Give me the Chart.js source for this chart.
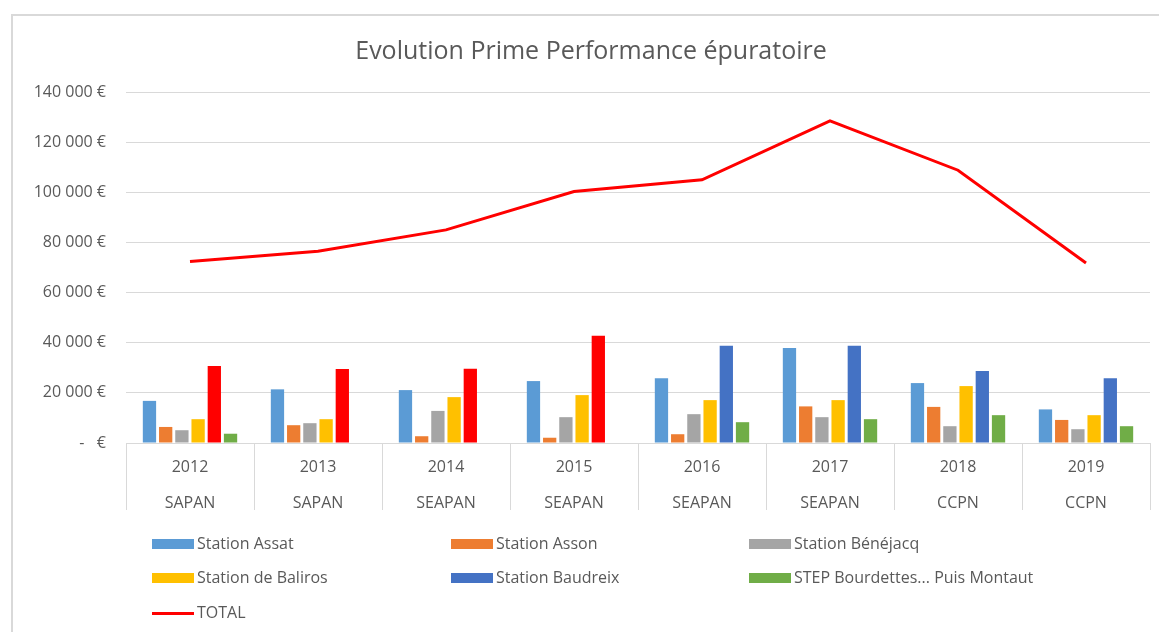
<!DOCTYPE html>
<html>
<head>
<meta charset="utf-8">
<script src="https://cdn.jsdelivr.net/npm/chart.js@4/dist/chart.umd.min.js"></script>
<style>
  html, body { margin:0; padding:0; background:#fff; }
  #wrap { position:relative; width:1159px; height:632px; overflow:hidden; font-family:"Open Sans", "Noto Sans", sans-serif; color:#595959; }
  #frame { position:absolute; left:11px; top:14px; width:1200px; height:700px; border-left:2px solid #d9d9d9; border-top:2px solid #d9d9d9; box-sizing:border-box; }
  #title { position:absolute; left:0; width:1182px; top:32px; text-align:center; font-size:25px; line-height:34px; color:#595959; }
  #cv { position:absolute; left:0; top:0; }
  .lg { position:absolute; font-size:16px; line-height:20px; color:#595959; white-space:nowrap; }
  .sw { position:absolute; top:5px; width:42px; height:10px; }
  .ln { position:absolute; top:9px; width:42px; height:3px; }
  .lt { position:absolute; left:45px; top:-1px; }
</style>
</head>
<body>
<div id="wrap">
  <div id="frame"></div>
  <canvas id="cv" width="1159" height="632"></canvas>
  <div id="title">Evolution Prime Performance épuratoire</div>
  <div id="legend"></div>
</div>
<script>
// ---- data ----
const years = ['2012','2013','2014','2015','2016','2017','2018','2019'];
const owners = ['SAPAN','SAPAN','SEAPAN','SEAPAN','SEAPAN','SEAPAN','CCPN','CCPN'];
const yTicks = [0, 20000, 40000, 60000, 80000, 100000, 120000, 140000];

const assat      = [16800, 21400, 21100, 24700, 25800, 37900, 23900, 13400];
const asson      = [6400, 7100, 2700, 2100, 3500, 14600, 14400, 9200];
const benejacq   = [5100, 7900, 12800, 10300, 11500, 10300, 6700, 5500];
const baliros    = [9500, 9500, 18300, 19100, 17100, 17100, 22700, 11100];
const baudreix   = [30700, 29500, 29600, 42800, 38800, 38800, 28700, 25800];
const bourdettes = [3700, null, null, null, 8300, 9500, 11100, 6700];
const total      = [72400, 76500, 85000, 100300, 105000, 128500, 108800, 71800];

const seriesNames = ['Station Assat','Station Asson','Station Bénéjacq','Station de Baliros','Station Baudreix','STEP Bourdettes... Puis Montaut','TOTAL'];

// ---- styles ----
const colors = ['#5B9BD5','#ED7D31','#A5A5A5','#FFC000','#4472C4','#70AD47','#FF0000'];
const baudreixColors = years.map((y, i) => i < 4 ? '#FF0000' : '#4472C4');
const txt = '#595959';
const grid = '#d9d9d9';
const fontFam = '"Open Sans", "Noto Sans", sans-serif';

const barData = [assat, asson, benejacq, baliros, baudreix, bourdettes];
const datasets = barData.map((d, i) => ({
  type: 'bar',
  label: seriesNames[i],
  data: d,
  backgroundColor: i === 4 ? baudreixColors : colors[i],
  borderWidth: 0,
  categoryPercentage: 0.76,
  barPercentage: 0.82,
  order: 1
}));
datasets.push({
  type: 'line',
  label: seriesNames[6],
  data: total,
  borderColor: colors[6],
  backgroundColor: colors[6],
  borderWidth: 3,
  pointRadius: 0,
  tension: 0,
  order: 0
});

function fmt(v) {
  if (v === 0) return '-   €';
  return String(v).replace(/\B(?=(\d{3})+(?!\d))/g, ' ') + ' €';
}

new Chart(document.getElementById('cv'), {
  type: 'bar',
  data: { labels: years.map((y, i) => [y, owners[i]]), datasets },
  options: {
    responsive: false,
    animation: false,
    layout: { padding: { left: 0, right: 9, top: 92, bottom: 0 } },
    plugins: { legend: { display: false }, title: { display: false }, tooltip: { enabled: false } },
    scales: {
      x: {
        offset: true,
        grid: { offset: true, drawOnChartArea: false, drawTicks: true, tickLength: 67, color: grid, lineWidth: 1 },
        border: { color: grid, width: 1 },
        ticks: { padding: -61, color: txt, font: { family: fontFam, size: 16, lineHeight: '36px' }, maxRotation: 0, autoSkip: false },
        afterFit: s => { s.height = 632 - 443; }
      },
      y: {
        min: 0, max: 140000,
        afterBuildTicks: s => { s.ticks = yTicks.map(v => ({ value: v })); },
        grid: { drawTicks: false, color: grid, lineWidth: 1 },
        border: { display: false },
        ticks: { padding: 20, color: txt, font: { family: fontFam, size: 16 }, callback: v => fmt(v) },
        afterFit: s => { s.width = 126; }
      }
    }
  }
});

// ---- HTML legend ----
const legendPos = [[152,534],[451,534],[749,534],[152,568],[451,568],[749,568],[152,603]];
const lg = document.getElementById('legend');
datasets.forEach((ds, i) => {
  const d = document.createElement('div');
  d.className = 'lg';
  d.style.left = legendPos[i][0] + 'px';
  d.style.top = legendPos[i][1] + 'px';
  const s = document.createElement('div');
  s.className = ds.type === 'line' ? 'ln' : 'sw';
  s.style.background = colors[i];
  const t = document.createElement('div');
  t.className = 'lt';
  t.textContent = ds.label;
  d.appendChild(s); d.appendChild(t);
  lg.appendChild(d);
});
</script>
</body>
</html>
